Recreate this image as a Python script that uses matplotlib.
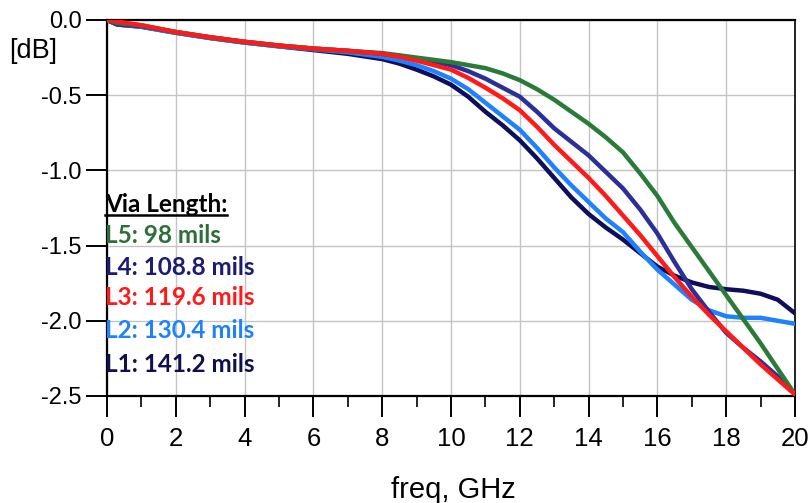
"""Insertion loss vs. frequency for five via lengths."""
import matplotlib
matplotlib.use("Agg")
import matplotlib.pyplot as plt
from matplotlib.lines import Line2D
from matplotlib.ticker import MultipleLocator
from matplotlib.transforms import ScaledTranslation

freq = [0, 0.3, 1, 2, 3, 4, 5, 6, 7, 8, 8.5, 9, 9.5, 10, 10.5, 11, 11.5, 12,
        12.5, 13, 13.5, 14, 14.5, 15, 15.5, 16, 16.5, 17, 17.5, 18, 18.5, 19,
        19.5, 20]

l1_db = [0, -0.03, -0.045, -0.085, -0.12, -0.15, -0.175, -0.20, -0.225, -0.26,
         -0.29, -0.33, -0.375, -0.43, -0.51, -0.61, -0.70, -0.80, -0.92, -1.05,
         -1.18, -1.29, -1.38, -1.46, -1.55, -1.64, -1.70, -1.745, -1.775, -1.79,
         -1.80, -1.82, -1.86, -1.95]
l2_db = [0, -0.03, -0.045, -0.085, -0.12, -0.15, -0.175, -0.195, -0.215, -0.245,
         -0.27, -0.30, -0.34, -0.39, -0.46, -0.55, -0.64, -0.73, -0.85, -0.98,
         -1.10, -1.21, -1.32, -1.41, -1.54, -1.66, -1.76, -1.86, -1.93, -1.97,
         -1.98, -1.98, -2.00, -2.02]
l3_db = [0, -0.01, -0.035, -0.08, -0.115, -0.145, -0.17, -0.19, -0.205, -0.225,
         -0.245, -0.27, -0.30, -0.33, -0.385, -0.45, -0.52, -0.60, -0.71, -0.83,
         -0.94, -1.05, -1.17, -1.30, -1.43, -1.57, -1.71, -1.84, -1.96, -2.07,
         -2.18, -2.29, -2.39, -2.49]
l4_db = [0, -0.03, -0.04, -0.08, -0.115, -0.145, -0.17, -0.19, -0.205, -0.225,
         -0.24, -0.26, -0.28, -0.30, -0.34, -0.39, -0.45, -0.51, -0.61, -0.72,
         -0.81, -0.90, -1.01, -1.12, -1.26, -1.42, -1.61, -1.79, -1.94, -2.08,
         -2.18, -2.27, -2.37, -2.49]
l5_db = [0, -0.02, -0.035, -0.08, -0.115, -0.145, -0.17, -0.19, -0.205, -0.22,
         -0.235, -0.25, -0.265, -0.28, -0.30, -0.32, -0.355, -0.40, -0.46, -0.53,
         -0.61, -0.69, -0.78, -0.88, -1.02, -1.17, -1.35, -1.51, -1.67, -1.83,
         -1.99, -2.15, -2.32, -2.49]

labels = ["L5: 98 mils", "L4: 108.8 mils", "L3: 119.6 mils",
          "L2: 130.4 mils", "L1: 141.2 mils"]
line_colors = ["#2a7a38", "#2c2f98", "#ff1a1a", "#1e82ff", "#0e0e5c"]
text_colors = ["#2e6e38", "#1c1c72", "#ff1a1a", "#1e82ff", "#10104c"]

W, H = 809, 503


def fx(px):
    return px / W


def fy(py):
    return 1 - py / H


def create_chart():
    """Draw the five loss curves and the via length key."""
    fig = plt.figure(figsize=(W / 100, H / 100), dpi=100)
    ax = fig.add_axes([fx(107), fy(396), fx(795) - fx(107), fy(20) - fy(396)])

    series = [l5_db, l4_db, l3_db, l2_db, l1_db]
    # draw order: L1 at the back, L3 on top like the original trace
    for idx in [4, 3, 1, 0, 2]:
        ax.plot(freq, series[idx], color=line_colors[idx], lw=3.2,
                solid_capstyle="round", solid_joinstyle="round", zorder=3)

    ax.set_xlim(0, 20)
    ax.set_ylim(-2.5, 0)
    ax.xaxis.set_major_locator(MultipleLocator(2))
    ax.xaxis.set_minor_locator(MultipleLocator(1))
    ax.set_yticks([0, -0.5, -1.0, -1.5, -2.0, -2.5])
    ax.set_yticklabels(["0.0", "-0.5", "-1.0", "-1.5", "-2.0", "-2.5"])
    ax.grid(True, which="major", color="#c4c4c4", lw=1.0, zorder=0)

    for side in ["left", "bottom", "top"]:
        ax.spines[side].set_linewidth(1.6)
    ax.spines["right"].set_linewidth(1.2)

    ax.tick_params(axis="x", which="major", direction="out", length=15,
                   width=1.4, pad=7, labelsize=18.5)
    ax.tick_params(axis="x", which="minor", direction="out", length=8,
                   width=1.2)
    ax.tick_params(axis="y", which="major", direction="out", length=15,
                   width=1.4, pad=3, labelsize=17)
    for lbl in ax.get_xticklabels():
        lbl.set_fontfamily("Liberation Sans")
    for lbl in ax.get_yticklabels():
        lbl.set_fontfamily("Liberation Sans")
    # keep the last x label inside the picture
    last = ax.get_xticklabels()[-1]
    last.set_transform(last.get_transform()
                       + ScaledTranslation(-4 / 100, 0, fig.dpi_scale_trans))

    fig.text(fx(9), fy(51), "[dB]", fontsize=19.5, family="Liberation Sans",
             ha="left", va="center")
    fig.text(fx(453), fy(490), "freq, GHz", fontsize=21,
             family="Liberation Sans", ha="center", va="center")

    # via length key
    head = fig.text(fx(105), fy(212), "Via Length:", fontsize=17.5,
                    family="Lato", weight="bold", color="black",
                    ha="left", va="baseline")
    baselines = [243, 275, 305, 338, 372]
    for lab, col, base in zip(labels, text_colors, baselines):
        fig.text(fx(105), fy(base), lab, fontsize=17.5, family="Lato",
                 weight="bold", color=col, ha="left", va="baseline")

    fig.canvas.draw()
    bb = head.get_window_extent()
    uy = bb.y0 + 1
    fig.add_artist(Line2D([bb.x0 / W, bb.x1 / W], [uy / H, uy / H],
                          color="black", lw=1.8, transform=fig.transFigure))

    fig.savefig("out.png", dpi=100)


if __name__ == "__main__":
    create_chart()
